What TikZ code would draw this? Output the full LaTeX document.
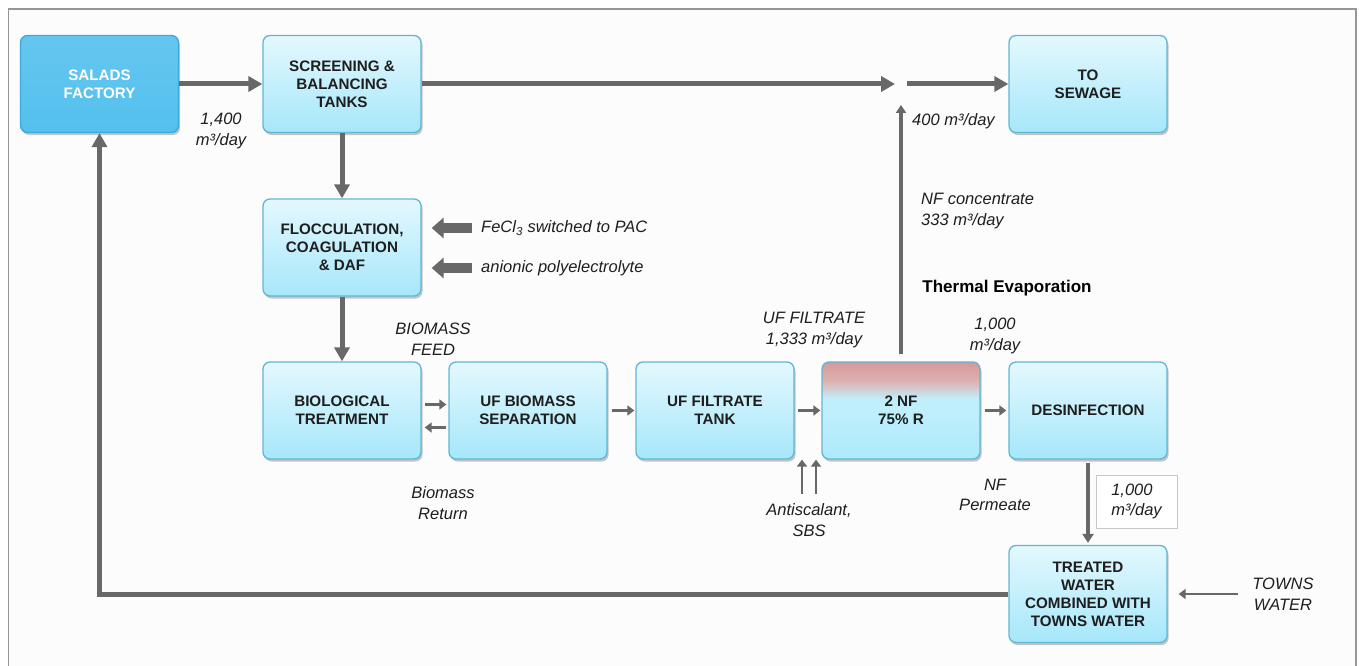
\documentclass[tikz,border=0pt]{standalone}
\usepackage{fontspec}
\setmainfont{Liberation Sans}
\usetikzlibrary{arrows.meta,shadows}
\definecolor{arr}{RGB}{104,104,104}
\definecolor{boxb}{RGB}{98,182,212}
\definecolor{boxt}{RGB}{228,248,254}
\definecolor{boxbot}{RGB}{166,231,250}
\definecolor{facf}{RGB}{84,192,238}
\definecolor{facb}{RGB}{62,168,216}
\definecolor{bgc}{RGB}{252,252,252}
\definecolor{framec}{RGB}{150,150,150}
\definecolor{nfp}{RGB}{214,152,152}
\definecolor{nfp2}{RGB}{222,178,178}
\definecolor{nfc}{RGB}{192,239,252}
\definecolor{nfcb}{RGB}{172,234,251}
\definecolor{txt}{RGB}{30,30,30}
\pgfdeclareverticalshading{nfshade}{100bp}{color(0bp)=(nfcb); color(25bp)=(nfcb); color(51bp)=(nfc); color(56bp)=(nfc); color(65bp)=(nfp2); color(75bp)=(nfp); color(100bp)=(nfp)}
\begin{document}
\begin{tikzpicture}[x=1pt,y=-1pt,
  boxbase/.style={rounded corners=7pt, line width=1.3pt, minimum width=158pt, minimum height=97pt,
    align=center, inner sep=0pt, font=\fontsize{15.2}{18}\selectfont\bfseries,
    drop shadow={shadow xshift=1.5pt, shadow yshift=-2.5pt, fill=black, opacity=0.22}},
  proc/.style={boxbase, draw=boxb, top color=boxt, bottom color=boxbot, text=txt},
  factory/.style={boxbase, draw=facb, top color=facf!90!white, bottom color=facf, text=white},
  nfbox/.style={boxbase, draw=boxb, shading=nfshade, text=txt},
  lab/.style={align=center, inner sep=0pt, font=\fontsize{16.5}{20.5}\selectfont\itshape, text=txt},
  boldlab/.style={inner sep=0pt, font=\fontsize{17}{20}\selectfont\bfseries, text=black},
  flowbox/.style={lab, align=left, draw=black!22, fill=white, line width=0.8pt, minimum width=81pt, minimum height=53pt},
  bigarr/.style={draw=arr, line width=5pt, -{Triangle[length=14pt,width=15pt]}},
  medarr/.style={draw=arr, line width=3.4pt, -{Triangle[length=8pt,width=10pt]}},
  smallarr/.style={draw=arr, line width=2.6pt, -{Triangle[length=7pt,width=10pt]}},
  downarr/.style={draw=arr, line width=4.5pt, -{Triangle[length=9pt,width=11pt]}},
  chemarr/.style={draw=arr, line width=10pt, -{Triangle[length=12pt,width=20pt]}}
]
\useasboundingbox (0,0) rectangle (1359,666);
\fill[white] (0,0) rectangle (1359,666);
\fill[bgc] (8.5,9) rectangle (1356,670);
\draw[framec, line width=1.2pt] (8.5,670) -- (8.5,9) -- (1356,9) -- (1356,670);

% process boxes
\node[factory] (salads) at (99.5,84) {SALADS\\FACTORY};
\node[proc] (screen) at (342,84) {SCREENING \&\\BALANCING\\TANKS};
\node[proc] (sewage) at (1088,84) {TO\\SEWAGE};
\node[proc] (flocc) at (342,247.5) {FLOCCULATION,\\COAGULATION\\\& DAF};
\node[proc] (bio) at (342,410.5) {BIOLOGICAL\\TREATMENT};
\node[proc] (ufb) at (528,410.5) {UF BIOMASS\\SEPARATION};
\node[proc] (tank) at (715,410.5) {UF FILTRATE\\TANK};
\node[nfbox] (nf) at (901,410.5) {2 NF\\75\% R};
\node[proc] (des) at (1088,410.5) {DESINFECTION};
\node[proc] (treated) at (1088,594) {TREATED\\WATER\\COMBINED WITH\\TOWNS WATER};

% labels
\node[lab] (l1400) at (221,131) {1,400\\m³/day};
\node[lab, anchor=west] (fec) at (481,228) {FeCl\textsubscript{3} switched to PAC};
\node[lab, anchor=west] (anion) at (481,268) {anionic polyelectrolyte};
\node[lab] (bfeed) at (433,339) {BIOMASS\\FEED};
\node[lab] (bret) at (443,503) {Biomass\\Return};
\node[lab] (uff) at (814,330) {UF FILTRATE\\1,333 m³/day};
\node[lab] (k1000a) at (995,336) {1,000\\m³/day};
\node[boldlab] (thermal) at (1007,288) {Thermal Evaporation};
\node[lab, anchor=west, align=left] (conc) at (921,211) {NF concentrate\\333 m³/day};
\node[lab, anchor=west] (f400) at (912,121) {400 m³/day};
\node[lab] (perm) at (995,495) {NF\\Permeate};
\node[lab] (anti) at (809,520) {Antiscalant,\\SBS};
\node[lab] (towns) at (1283,594) {TOWNS\\WATER};
\node[flowbox] (k1000b) at (1136.5,501.5) {1,000\\m³/day};

% connectors
\coordinate (gapL) at (895,84);
\coordinate (gapR) at (907,84);
\coordinate (concTop) at (901,105);
\coordinate (antiL) at (802,494);
\coordinate (antiR) at (816,494);

\draw[bigarr] (salads) -- (screen);
\draw[bigarr] (screen.east) -- (gapL);
\draw[bigarr] (gapR) -- (sewage.west);
\draw[bigarr] (screen) -- (flocc);
\draw[bigarr] (flocc) -- (bio);
\draw[medarr] ([yshift=7pt]nf.north) -- (concTop);
\draw[chemarr] ([xshift=-9pt]fec.west) -- ([xshift=10pt]flocc.east |- fec.west);
\draw[chemarr] ([xshift=-9pt]anion.west) -- ([xshift=10pt]flocc.east |- anion.west);
\draw[smallarr] ([yshift=6pt,xshift=3pt]bio.east) -- ([yshift=6pt,xshift=-2pt]ufb.west);
\draw[smallarr] ([yshift=-17pt,xshift=-2pt]ufb.west) -- ([yshift=-17pt,xshift=3pt]bio.east);
\draw[smallarr] ([xshift=4pt]ufb.east) -- ([xshift=-1pt]tank.west);
\draw[smallarr] ([xshift=3pt]tank.east) -- ([xshift=-1pt]nf.west);
\draw[smallarr] ([xshift=4pt]nf.east) -- ([xshift=-2pt]des.west);
\draw[smallarr] (antiL) -- (antiL |- nf.south);
\draw[smallarr] (antiR) -- (antiR |- nf.south);
\draw[downarr] ([yshift=-3pt]des.south) -- ([yshift=2pt]treated.north);
\draw[smallarr] ([xshift=-14pt]towns.west) -- ([xshift=11pt]treated.east);
\draw[bigarr] (treated.west) -| (salads.south);
\end{tikzpicture}
\end{document}
